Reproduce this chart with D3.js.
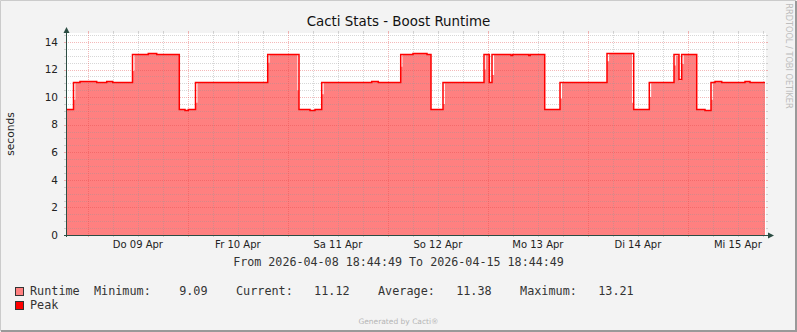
<!DOCTYPE html>
<html>
<head>
<meta charset="utf-8">
<title>Cacti Stats - Boost Runtime</title>
<script src="https://d3js.org/d3.v7.min.js"></script>
<style>
body{ margin:0; background:#f3f3f3; }
text{ font-family: "DejaVu Sans", sans-serif; }
.mono{ font-family: "DejaVu Sans Mono", monospace; white-space: pre; }
</style>
</head>
<body>
<svg class="chart"></svg>
<script>
// hours after graph start (2026-04-08 18:44:49)
var hours = [0, 1.80, 2.24, 3.36, 7.37, 9.77, 11.21, 15.96, 16.44, 19.75, 21.77, 25.61, 25.92,
  27.19, 28.56, 29.35, 31.08, 31.54, 48.41, 48.84, 53.76, 54.55, 55.54, 55.92, 58.56, 59.76,
  61.37, 61.84, 73.37, 74.95, 80.33, 80.74, 83.28, 86.64, 87.60, 90.48, 90.94, 100.32, 100.74,
  101.59, 102.24, 102.74, 106.80, 107.21, 111.05, 111.43, 114.89, 118.56, 119.04, 129.84, 130.34,
  135.84, 136.25, 139.99, 140.44, 145.92, 146.34, 147.12, 147.77, 148.24, 151.37, 153.36, 154.80,
  155.24, 155.76, 157.37, 162.96, 164.16, 167.76];
// peak values (seconds)
var peak = [9.12, 11.10, 11.10, 11.18, 11.10, 11.18, 11.10, 13.15, 13.15, 13.22, 13.15, 13.10, 13.15,
  9.12, 9.07, 9.12, 11.10, 11.10, 13.15, 13.15, 13.10, 13.15, 13.15, 9.12, 9.05, 9.15,
  11.10, 11.10, 11.18, 11.10, 13.15, 13.15, 13.22, 13.15, 9.12, 11.10, 11.10, 13.15, 13.15,
  11.10, 13.15, 13.15, 13.08, 13.15, 13.08, 13.15, 9.12, 11.10, 11.10, 13.18, 13.18,
  13.18, 9.12, 11.10, 11.10, 13.15, 13.15, 11.30, 13.15, 13.15, 9.12, 9.05, 11.10,
  11.10, 11.18, 11.10, 11.18, 11.12, 11.12];
// runtime (average) values (seconds)
var runtime = [9.10, 9.80, 11.08, 11.16, 11.08, 11.16, 11.08, 11.90, 13.12, 13.20, 13.12, 13.08, 13.12,
  9.10, 9.05, 9.10, 9.60, 11.08, 12.50, 13.12, 13.08, 13.12, 10.50, 9.10, 9.03, 9.13,
  10.20, 11.08, 11.16, 11.08, 12.20, 13.12, 13.20, 13.12, 9.10, 9.50, 11.08, 12.00, 13.12,
  11.08, 11.60, 13.12, 13.06, 13.12, 13.06, 13.12, 9.10, 9.90, 11.08, 12.60, 13.15,
  9.60, 9.10, 10.00, 11.08, 12.30, 13.00, 11.20, 12.40, 13.12, 9.10, 9.03, 9.80,
  11.08, 11.16, 11.08, 11.16, 11.10, 11.10];

var dayLabels = ["Do 09 Apr", "Fr 10 Apr", "Sa 11 Apr", "So 12 Apr", "Mo 13 Apr", "Di 14 Apr", "Mi 15 Apr"];
var yTicks = [0, 2, 4, 6, 8, 10, 12, 14];
var statNames = ["Minimum:", "Current:", "Average:", "Maximum:"];
var statValues = [9.09, 11.12, 11.38, 13.21];

var width = 797, height = 332;
var pLeft = 66, pRight = 766, pTop = 33, pBottom = 235;
var axisColor = "#2c4d43";
var minorColor = "rgba(150,150,150,0.38)";
var majorColor = "rgba(225,70,70,0.38)";

var start = new Date(2026, 3, 8, 18, 44, 49);
var end = new Date(2026, 3, 15, 18, 44, 49);

var data = hours.map(function(h, i){
  return {t: new Date(start.getTime() + h * 3600e3), peak: peak[i], run: runtime[i]};
});

var svg = d3.select(".chart").attr("width", width).attr("height", height);

var x = d3.scaleTime().domain([start, end]).range([pLeft, pRight]);
var y = d3.scaleLinear().domain([0, 14.65]).range([pBottom, pTop]);

// background + shaded border
svg.append("rect").attr("width", width).attr("height", height).attr("fill", "#f3f3f3");
svg.append("path").attr("d", "M0.5," + (height - 1) + "V0.5H" + (width - 1))
  .attr("fill", "none").attr("stroke", "#cbcbcb");
svg.append("path").attr("d", "M1," + (height - 1) + "H" + (width - 1) + "V1")
  .attr("fill", "none").attr("stroke", "#999").attr("stroke-width", 2);

svg.append("rect").attr("x", pLeft).attr("y", pTop)
  .attr("width", pRight - pLeft).attr("height", pBottom - pTop).attr("fill", "#fff");

// runtime area
svg.append("path")
  .datum(data)
  .attr("fill", "#ff8080")
  .attr("d", d3.area().curve(d3.curveStepAfter)
    .x(function(d){ return x(d.t); })
    .y0(y(0))
    .y1(function(d){ return y(d.run); }));

// grid
var grid = svg.append("g");
var minorY = d3.range(0.5, 14.6, 0.5).filter(function(v){ return v % 2 !== 0; });
function hline(v, color){
  var yy = Math.round(y(v)) + 0.5;
  grid.append("line").attr("x1", pLeft).attr("x2", pRight).attr("y1", yy).attr("y2", yy)
    .attr("stroke", color).attr("stroke-dasharray", "1,1");
  grid.append("line").attr("x1", pLeft - 2).attr("x2", pLeft).attr("y1", yy).attr("y2", yy).attr("stroke", color);
  grid.append("line").attr("x1", pRight).attr("x2", pRight + 2).attr("y1", yy).attr("y2", yy).attr("stroke", color);
}
function vline(t, color){
  var xx = Math.round(x(t)) + 0.5;
  grid.append("line").attr("x1", xx).attr("x2", xx).attr("y1", pTop).attr("y2", pBottom)
    .attr("stroke", color).attr("stroke-dasharray", "1,1");
  grid.append("line").attr("x1", xx).attr("x2", xx).attr("y1", pTop - 2).attr("y2", pTop).attr("stroke", color);
  grid.append("line").attr("x1", xx).attr("x2", xx).attr("y1", pBottom).attr("y2", pBottom + 2).attr("stroke", color);
}
minorY.forEach(function(v){ hline(v, minorColor); });
yTicks.forEach(function(v){ hline(v, majorColor); });
x.ticks(d3.timeHour.every(6)).forEach(function(t){
  vline(t, t.getHours() === 0 ? majorColor : minorColor);
});

// peak line
svg.append("path")
  .datum(data)
  .attr("fill", "none")
  .attr("stroke", "#ff0000")
  .attr("stroke-width", 1.5)
  .attr("d", d3.line().curve(d3.curveStepAfter)
    .x(function(d){ return x(d.t); })
    .y(function(d){ return Math.round(y(d.peak)) + 0.5; }));

// axes with arrows
svg.append("line").attr("x1", pLeft + 0.5).attr("x2", pLeft + 0.5).attr("y1", pBottom + 2).attr("y2", 31)
  .attr("stroke", axisColor);
svg.append("line").attr("x1", pLeft - 2).attr("x2", pRight + 4).attr("y1", pBottom + 0.5).attr("y2", pBottom + 0.5)
  .attr("stroke", axisColor);
svg.append("path").attr("d", "M" + (pLeft - 2.5) + ",33L" + (pLeft + 0.5) + ",27L" + (pLeft + 3.5) + ",33Z")
  .attr("fill", axisColor);
svg.append("path").attr("d", "M" + (pRight + 2) + "," + (pBottom - 2.5) + "L" + (pRight + 8) + "," + (pBottom + 0.5) +
  "L" + (pRight + 2) + "," + (pBottom + 3.5) + "Z").attr("fill", axisColor);

// y labels
svg.selectAll(".ylab").data(yTicks).enter().append("text")
  .attr("class", "ylab")
  .attr("x", 58).attr("y", function(d){ return y(d); })
  .attr("dy", "0.35em").attr("text-anchor", "end")
  .attr("font-size", "10.5px").attr("fill", "#222")
  .text(function(d){ return d; });

// x labels at noon
var noons = x.ticks(d3.timeHour.every(12)).filter(function(t){ return t.getHours() === 12; });
svg.selectAll(".xlab").data(dayLabels).enter().append("text")
  .attr("class", "xlab")
  .attr("x", function(d, i){ return x(noons[i]); }).attr("y", 248)
  .attr("text-anchor", "middle").attr("font-size", "10px").attr("fill", "#222")
  .text(function(d){ return d; });

// titles
svg.append("text").attr("x", 398.5).attr("y", 26).attr("text-anchor", "middle")
  .attr("font-size", "13.4px").attr("fill", "#111").text("Cacti Stats - Boost Runtime");
svg.append("text").attr("transform", "translate(14,134) rotate(-90)").attr("text-anchor", "middle")
  .attr("font-size", "10.7px").attr("fill", "#222").text("seconds");
svg.append("text").attr("transform", "translate(786,56) rotate(90)").attr("text-anchor", "middle")
  .attr("font-size", "8.2px").attr("fill", "#bdbdbd").text("RRDTOOL / TOBI OETIKER");

svg.append("text").attr("class", "mono").attr("x", 398.5).attr("y", 266).attr("text-anchor", "middle")
  .attr("font-size", "11.7px").attr("fill", "#333")
  .text("From 2026-04-08 18:44:49 To 2026-04-15 18:44:49");

// legend
var statText = "Runtime  " + statNames.map(function(n, i){
  var v = statValues[i].toFixed(2);
  return n + "        ".slice(v.length) + v;
}).join("    ");
var legend = [{label: statText, color: "#ff8080"}, {label: "Peak", color: "#ff0000"}];
legend.forEach(function(l, i){
  svg.append("rect").attr("x", 15.5).attr("y", 287.5 + i * 14).attr("width", 8).attr("height", 8)
    .attr("fill", l.color).attr("stroke", "#333");
  svg.append("text").attr("class", "mono").attr("x", 30).attr("y", 295 + i * 14)
    .attr("font-size", "11.8px").attr("fill", "#333").text(l.label);
});

svg.append("text").attr("x", 398.5).attr("y", 324).attr("text-anchor", "middle")
  .attr("font-size", "7.5px").attr("fill", "#b5b5b5").text("Generated by Cacti\u00ae");
</script>
</body>
</html>
